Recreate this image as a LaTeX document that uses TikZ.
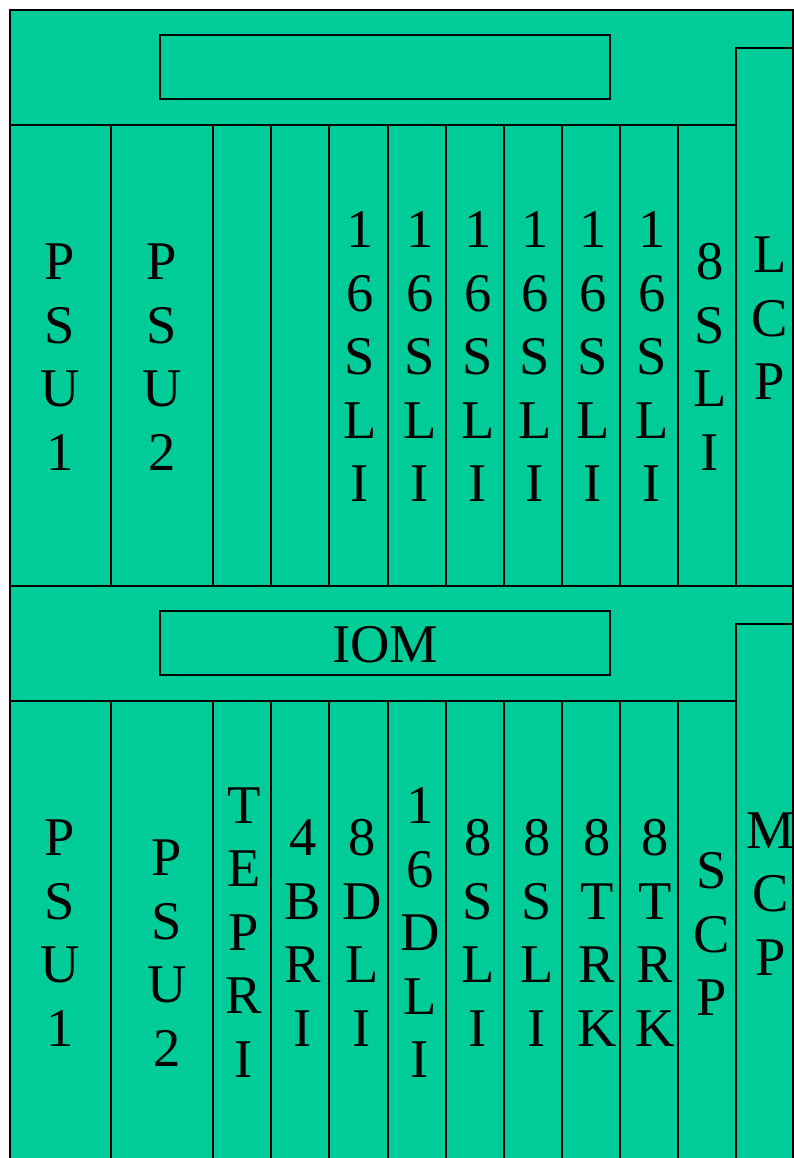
\documentclass[tikz,border=0pt]{standalone}
\usepackage{fontspec}
\setmainfont{Liberation Serif}
\definecolor{board}{HTML}{00CC99}
\begin{document}
\begin{tikzpicture}[x=1pt,y=-1pt,line width=1.6pt,
  panel/.style={draw=black,fill=board},
  lbl/.style={font=\fontsize{54.5}{63.5}\selectfont,align=center,inner sep=0pt,text=black}]
\useasboundingbox (0,0) rectangle (794,1158);
\clip (0,0) rectangle (794,1158);
% outer frame
\draw[panel] (10,10) rectangle (793,1200);
% top band
\draw (10,125) -- (736,125);
\draw[panel] (160,35) rectangle (610,99);
% upper slots
\foreach \a/\b in {10/111,111/213,213/271,271/329,329/388,388/446,446/504,504/562,562/620,620/678,678/736}
  \draw[panel] (\a,125) rectangle (\b,586);
\draw[panel] (736,48) rectangle (793,586);
% middle band
\draw (10,586) -- (793,586);
\draw (10,701) -- (736,701);
\draw[panel] (160,611) rectangle (610,675);
% lower slots
\foreach \a/\b in {10/111,111/213,213/271,271/329,329/388,388/446,446/504,504/562,562/620,620/678,678/736}
  \draw[panel] (\a,701) rectangle (\b,1200);
\draw[panel] (736,624) rectangle (793,1200);
% upper labels
\node[lbl] (u1) at (60,357) {P\\S\\U\\1};
\node[lbl] (u2) at (162,357) {P\\S\\U\\2};
\node[lbl] (u5) at (360,357) {1\\6\\S\\L\\I};
\node[lbl] (u6) at (420,357) {1\\6\\S\\L\\I};
\node[lbl] (u7) at (478,357) {1\\6\\S\\L\\I};
\node[lbl] (u8) at (535,357) {1\\6\\S\\L\\I};
\node[lbl] (u9) at (593,357) {1\\6\\S\\L\\I};
\node[lbl] (u10) at (652,357) {1\\6\\S\\L\\I};
\node[lbl] (u11) at (710,357) {8\\S\\L\\I};
\node[lbl] (lcp) at (770,318.5) {L\\C\\P};
% IOM
\node[lbl] (iom) at (385,645) {IOM};
% lower labels
\node[lbl] (l1) at (60,933) {P\\S\\U\\1};
\node[lbl] (l2) at (167,953) {P\\S\\U\\2};
\node[lbl] (l3) at (244,932.5) {T\\E\\P\\R\\I};
\node[lbl] (l4) at (303,933) {4\\B\\R\\I};
\node[lbl] (l5) at (362,933) {8\\D\\L\\I};
\node[lbl] (l6) at (420,932.5) {1\\6\\D\\L\\I};
\node[lbl] (l7) at (478,933) {8\\S\\L\\I};
\node[lbl] (l8) at (537,933) {8\\S\\L\\I};
\node[lbl] (l9) at (597,933) {8\\T\\R\\K};
\node[lbl] (l10) at (655,933) {8\\T\\R\\K};
\node[lbl] (l11) at (712,934) {S\\C\\P};
\node[lbl] (mcp) at (771,894) {M\\C\\P};
\end{tikzpicture}
\end{document}
